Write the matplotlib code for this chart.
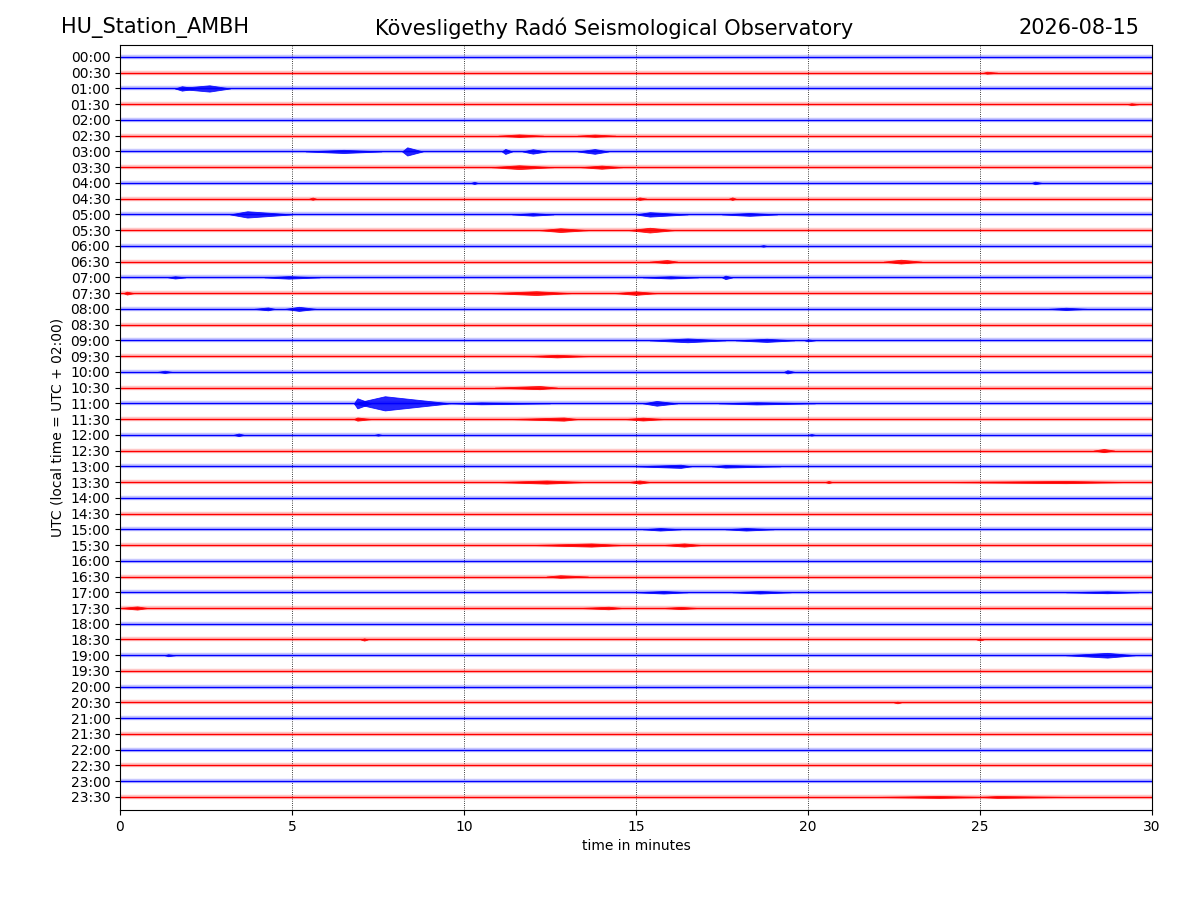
import numpy as np
import matplotlib
matplotlib.use("Agg")
import matplotlib.pyplot as plt

# half-hour rows of the day plot, top to bottom
row_labels = ["%02d:%02d" % (h, m) for h in range(24) for m in (0, 30)]
row_colors = ["b", "r"]

# bursts read off the helicorder:
# (row, start minute, peak minute, end minute, half amplitude in row units)
events = [
    ("00:30", 25.1, 25.2, 25.5, 0.06),
    ("01:00", 1.6, 2.6, 3.2, 0.20),
    ("01:00", 1.6, 1.8, 2.2, 0.14),
    ("01:30", 29.3, 29.4, 29.6, 0.06),
    ("02:30", 11.0, 11.6, 12.3, 0.08),
    ("02:30", 13.3, 13.8, 14.4, 0.07),
    ("03:00", 5.4, 6.5, 7.6, 0.10),
    ("03:00", 8.2, 8.35, 8.8, 0.26),
    ("03:00", 11.1, 11.2, 11.4, 0.16),
    ("03:00", 11.7, 12.0, 12.4, 0.14),
    ("03:00", 13.3, 13.8, 14.2, 0.15),
    ("03:30", 10.8, 11.6, 12.6, 0.12),
    ("03:30", 13.4, 14.0, 14.6, 0.10),
    ("04:00", 10.2, 10.3, 10.4, 0.07),
    ("04:00", 26.5, 26.6, 26.8, 0.08),
    ("04:30", 5.5, 5.6, 5.7, 0.07),
    ("04:30", 15.0, 15.1, 15.3, 0.08),
    ("04:30", 17.7, 17.8, 17.9, 0.08),
    ("05:00", 3.2, 3.7, 5.0, 0.20),
    ("05:00", 11.4, 12.0, 12.6, 0.08),
    ("05:00", 15.0, 15.4, 16.5, 0.14),
    ("05:00", 17.5, 18.3, 19.1, 0.09),
    ("05:30", 12.2, 12.8, 13.6, 0.12),
    ("05:30", 14.8, 15.4, 16.1, 0.15),
    ("06:00", 18.6, 18.7, 18.8, 0.05),
    ("06:30", 15.4, 15.9, 16.2, 0.10),
    ("06:30", 22.2, 22.7, 23.3, 0.12),
    ("07:00", 1.4, 1.6, 1.9, 0.07),
    ("07:00", 4.2, 4.9, 5.8, 0.08),
    ("07:00", 15.2, 16.0, 16.8, 0.07),
    ("07:00", 17.5, 17.6, 17.8, 0.11),
    ("07:30", 0.1, 0.2, 0.4, 0.09),
    ("07:30", 10.8, 12.1, 13.1, 0.12),
    ("07:30", 14.4, 15.0, 15.6, 0.11),
    ("08:00", 3.9, 4.3, 4.5, 0.09),
    ("08:00", 4.8, 5.2, 5.7, 0.13),
    ("08:00", 27.0, 27.5, 28.1, 0.07),
    ("09:00", 15.4, 16.5, 17.6, 0.12),
    ("09:00", 17.9, 18.8, 19.6, 0.10),
    ("09:00", 19.9, 20.0, 20.2, 0.06),
    ("09:30", 11.9, 12.7, 13.6, 0.08),
    ("10:00", 1.1, 1.3, 1.5, 0.07),
    ("10:00", 19.3, 19.4, 19.6, 0.10),
    ("10:30", 10.9, 12.2, 12.7, 0.10),
    ("11:00", 6.8, 7.7, 9.6, 0.45),
    ("11:00", 6.8, 6.9, 7.3, 0.32),
    ("11:00", 9.6, 10.5, 12.5, 0.06),
    ("11:00", 15.2, 15.6, 16.2, 0.15),
    ("11:00", 17.4, 18.5, 20.2, 0.07),
    ("11:30", 6.8, 6.9, 7.3, 0.10),
    ("11:30", 11.4, 12.9, 13.3, 0.10),
    ("11:30", 14.7, 15.2, 15.8, 0.09),
    ("12:00", 3.3, 3.45, 3.6, 0.08),
    ("12:00", 7.4, 7.5, 7.6, 0.05),
    ("12:00", 20.0, 20.1, 20.2, 0.05),
    ("12:30", 28.3, 28.6, 28.9, 0.10),
    ("13:00", 15.0, 16.3, 16.6, 0.10),
    ("13:00", 17.2, 17.6, 19.2, 0.08),
    ("13:30", 11.0, 12.4, 13.5, 0.10),
    ("13:30", 14.8, 15.1, 15.4, 0.10),
    ("13:30", 20.5, 20.6, 20.7, 0.07),
    ("13:30", 24.0, 27.5, 29.2, 0.07),
    ("15:00", 15.2, 15.7, 16.3, 0.08),
    ("15:00", 17.6, 18.2, 19.0, 0.08),
    ("15:30", 12.0, 13.7, 14.6, 0.10),
    ("15:30", 15.8, 16.4, 16.9, 0.10),
    ("16:30", 12.4, 12.8, 13.6, 0.08),
    ("17:00", 15.0, 15.8, 16.5, 0.08),
    ("17:00", 17.8, 18.6, 19.5, 0.08),
    ("17:00", 27.5, 28.7, 29.6, 0.06),
    ("17:30", 0.0, 0.5, 0.8, 0.10),
    ("17:30", 13.4, 14.2, 14.6, 0.08),
    ("17:30", 15.8, 16.3, 16.8, 0.07),
    ("18:30", 7.0, 7.1, 7.2, 0.07),
    ("18:30", 24.9, 25.0, 25.1, 0.06),
    ("19:00", 1.3, 1.4, 1.6, 0.06),
    ("19:00", 27.5, 28.7, 29.5, 0.15),
    ("20:30", 22.5, 22.6, 22.7, 0.05),
    ("23:30", 22.0, 23.8, 25.2, 0.06),
    ("23:30", 25.0, 25.5, 27.5, 0.06),
]

fig = plt.figure(figsize=(12, 9), dpi=100)
ax = fig.add_axes([0.1, 0.1, 0.86, 0.85])

for i, lab in enumerate(row_labels):
    c = row_colors[i % 2]
    ax.plot([0, 30], [-i, -i], color=c, lw=3.2, alpha=0.22, solid_capstyle="butt")
    ax.plot([0, 30], [-i, -i], color=c, lw=1.0, solid_capstyle="butt")

for lab, t0, tp, t1, amp in events:
    i = row_labels.index(lab)
    c = row_colors[i % 2]
    env = np.array([0, amp, 0])
    ax.fill_between([t0, tp, t1], -i - env, -i + env, color=c, lw=0.6, alpha=0.85)

ax.set_xlim(0, 30)
ax.set_ylim(-47.83, 0.76)
ax.set_xticks([0, 5, 10, 15, 20, 25, 30])
ax.set_yticks([-i for i in range(len(row_labels))])
ax.set_yticklabels(row_labels)
ax.xaxis.grid(True, linestyle=":", color="k", lw=0.6)
ax.set_xlabel("time in minutes")
ax.set_ylabel("UTC (local time = UTC + 02:00)")

fig.text(0.051, 0.969, "HU_Station_AMBH", fontsize=15, ha="left", va="center")
fig.text(0.512, 0.969, "Kövesligethy Radó Seismological Observatory", fontsize=15,
         ha="center", va="center")
fig.text(0.95, 0.969, "2026-08-15", fontsize=15, ha="right", va="center")

fig.savefig("out.png")
